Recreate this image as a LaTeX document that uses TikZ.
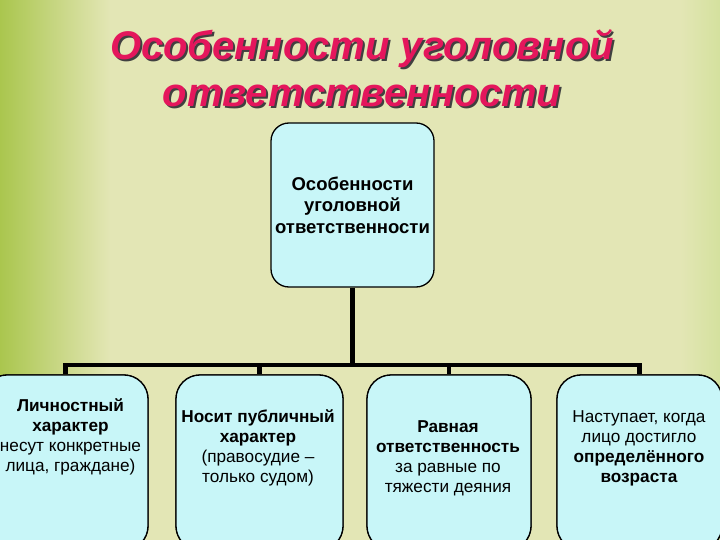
\documentclass[tikz,border=0pt]{standalone}
\usepackage{fontspec}
\setmainfont{Liberation Sans}
\usetikzlibrary{positioning}

\definecolor{bgkhaki}{RGB}{227,230,181}
\definecolor{bggreen}{RGB}{170,198,78}
\definecolor{bgright}{RGB}{212,225,158}
\definecolor{boxcyan}{RGB}{200,246,248}
\definecolor{titlered}{RGB}{228,22,92}

% text with a dark drop shadow
\newcommand{\shadowed}[1]{\rlap{\hspace{2pt}\raisebox{-2pt}{\textcolor{black!75}{#1}}}#1}

\tikzset{
  box/.style={draw=black, line width=1.3pt, fill=boxcyan, rounded corners=24pt,
    minimum height=175pt},
  txt/.style={align=center, font=\fontsize{17.2}{20}\selectfont, inner sep=0pt},
  link/.style={line width=4.5pt},
  titlefont/.style={align=center, inner sep=0pt,
    font=\fontsize{40}{47}\selectfont\bfseries\itshape},
}

\begin{document}
\begin{tikzpicture}[x=1pt,y=-1pt]
  \useasboundingbox (0,0) rectangle (720,540);
  % background
  \fill[bgkhaki] (0,0) rectangle (720,540);
  \shade[left color=bggreen, right color=bgkhaki] (0,0) rectangle (110,540);
  \shade[left color=bgkhaki, right color=bgright] (680,0) rectangle (720,540);

  % title
  \node[titlefont, text=titlered] (title) at (362,69)
    {\shadowed{Особенности уголовной}\\\shadowed{ответственности}};

  % top box
  \node[box, minimum width=163pt, minimum height=164pt, rounded corners=18pt,
    align=center, font=\fontsize{18.5}{21.5}\selectfont\bfseries]
    (root) at (352.5,205) {Особенности\\уголовной\\ответственности};

  % bottom boxes
  \coordinate (hub) at (352.5,365);
  \path (65.5,462.5) node[box, minimum width=165pt] (b1) {}
        (259.5,462.5) node[box, minimum width=167pt] (b2) {}
        (449,462.5) node[box, minimum width=164pt] (b3) {}
        (639.5,462.5) node[box, minimum width=165pt] (b4) {};

  % connectors
  \draw[link] (root.south) -- (hub);
  \draw[link] (b1.north) -- (b1.north |- hub) -- (b4.north |- hub) -- (b4.north);
  \draw[link] (b2.north |- hub) -- (b2.north);
  \draw[link] (b3.north |- hub) -- (b3.north);
  \path (65.5,462.5) node[box, minimum width=165pt] {}
        (259.5,462.5) node[box, minimum width=167pt] {}
        (449,462.5) node[box, minimum width=164pt] {}
        (639.5,462.5) node[box, minimum width=165pt] {};

  \node[txt] (t1) at (70.5,437) {\textbf{Личностный}\\\textbf{характер}\\несут конкретные\\лица, граждане)};
  \node[txt] (t2) at (258,448) {\textbf{Носит публичный}\\\textbf{характер}\\(правосудие –\\только судом)};
  \node[txt] (t3) at (448,458) {\textbf{Равная}\\\textbf{ответственность}\\за равные по\\тяжести деяния};
  \node[txt] (t4) at (639,448) {Наступает, когда\\лицо достигло\\\textbf{определённого}\\\textbf{возраста}};
\end{tikzpicture}
\end{document}
